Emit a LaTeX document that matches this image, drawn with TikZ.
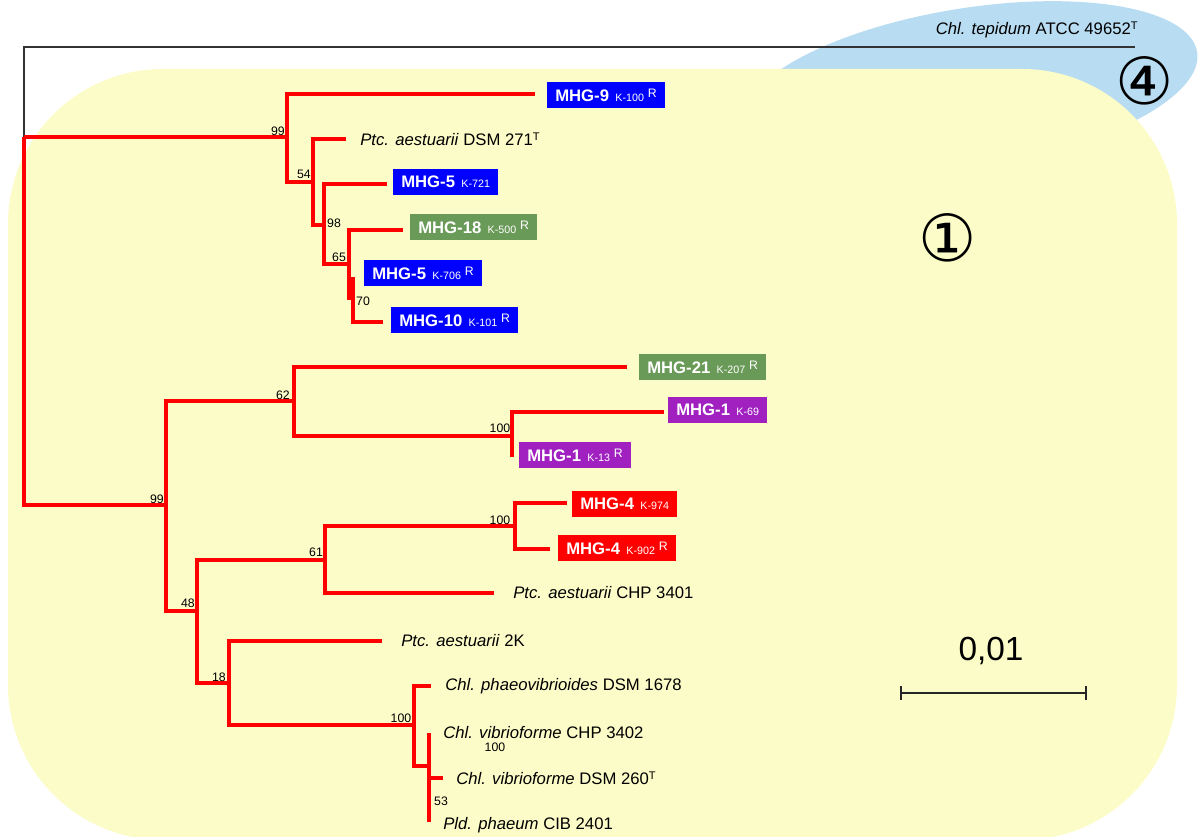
\documentclass[tikz,border=0pt]{standalone}
\usepackage{fontspec}
\setmainfont{Liberation Sans}
\newfontfamily\circfont{DejaVu Sans}
\usetikzlibrary{arrows.meta}
\definecolor{mhg-blue}{HTML}{0000FF}
\definecolor{mhg-green}{HTML}{6A9A58}
\definecolor{mhg-purple}{HTML}{A020C0}
\definecolor{mhg-red}{HTML}{FF0000}
\definecolor{group-one}{HTML}{FCFCC8}
\definecolor{group-four}{HTML}{B8DCF2}
\newcommand{\strain}[2]{\textbf{#1}\hspace{3.6pt}{\fontsize{6.1}{7}\selectfont #2}}
\newcommand{\rsup}{\hspace{2.2pt}\raisebox{2.3pt}{\fontsize{7}{8}\selectfont R}}
\newcommand{\tsup}{\raisebox{2.8pt}{\fontsize{6.3}{7}\selectfont T}}

\begin{document}
\begin{tikzpicture}[x=0.02cm, y=-0.02cm,
        taxon/.style={anchor=west, inner sep=0pt, font=\fontsize{9.5}{11}\selectfont},
        mhgbox/.style={anchor=west, inner xsep=4.5pt, inner ysep=0pt,
            minimum height=15.3pt, text=white, font=\fontsize{9.5}{11}\selectfont},
        boot/.style={inner sep=0pt, font=\fontsize{7}{8}\selectfont},
        branch/.style={draw=mhg-red, line width=1.9pt},
        outgroup/.style={draw=black!80, line width=1.1pt},
        circnum/.style={inner sep=0pt, font=\circfont\fontsize{37}{37}\selectfont}]
      \useasboundingbox (0,0) rectangle (1198,837);
      % groups
      \fill[group-four, rotate around={9:(970,88)}] (970,88) ellipse [x radius=4.6cm, y radius=1.6cm];
      \fill[group-one, rounded corners=3.1cm] (8,69) rectangle (1177,840);
      \node[circnum] (grp1) at (948,238) {①};
      \node[circnum] (grp4) at (1145,81) {④};
      % inner nodes
      \coordinate (root) at (24,137);
      \coordinate (nA) at (287,137);
      \coordinate (nC) at (313,182);
      \coordinate (nD) at (324,225);
      \coordinate (nE) at (349,264);
      \coordinate (nF) at (353,298);
      \coordinate (nB) at (166,505);
      \coordinate (nG) at (294,401);
      \coordinate (nI) at (512,436);
      \coordinate (nH) at (197,611);
      \coordinate (nJ) at (325,560);
      \coordinate (nL) at (515,526);
      \coordinate (nK) at (229,683);
      \coordinate (nM) at (414,725);
      \coordinate (nN) at (429,766);
      % tips
      \coordinate (tTep) at (1135,47);
      \coordinate (tMHG9) at (535,94);
      \coordinate (tPtcA) at (346,139);
      \coordinate (tMHG5a) at (387,184);
      \coordinate (tMHG18) at (403,230);
      \coordinate (tMHG5b) at (353,277);
      \coordinate (tMHG10) at (383,322);
      \coordinate (tMHG21) at (627,367);
      \coordinate (tMHG1a) at (664,412);
      \coordinate (tMHG1b) at (512,457);
      \coordinate (tMHG4a) at (567,503);
      \coordinate (tMHG4b) at (550,549);
      \coordinate (tPtcB) at (494,593);
      \coordinate (tPtcC) at (382,641);
      \coordinate (tPhaeo) at (431,686);
      \coordinate (tVibA) at (429,733);
      \coordinate (tVibB) at (443,778);
      \coordinate (tPld) at (429,822);
      % branches
      \draw[outgroup] (root) |- (tTep);
      \draw[branch] (root) -- (nA);
      \draw[branch] (root) |- (nB);
      \draw[branch] (nA) |- (tMHG9);
      \draw[branch] (nA) |- (nC);
      \draw[branch] (nC) |- (tPtcA);
      \draw[branch] (nC) |- (nD);
      \draw[branch] (nD) |- (tMHG5a);
      \draw[branch] (nD) |- (nE);
      \draw[branch] (nE) |- (tMHG18);
      \draw[branch] (nE) |- (nF);
      \draw[branch] (nF) |- (tMHG5b);
      \draw[branch] (nF) |- (tMHG10);
      \draw[branch] (nB) |- (nG);
      \draw[branch] (nB) |- (nH);
      \draw[branch] (nG) |- (tMHG21);
      \draw[branch] (nG) |- (nI);
      \draw[branch] (nI) |- (tMHG1a);
      \draw[branch] (nI) |- (tMHG1b);
      \draw[branch] (nH) |- (nJ);
      \draw[branch] (nH) |- (nK);
      \draw[branch] (nJ) |- (nL);
      \draw[branch] (nJ) |- (tPtcB);
      \draw[branch] (nL) |- (tMHG4a);
      \draw[branch] (nL) |- (tMHG4b);
      \draw[branch] (nK) |- (tPtcC);
      \draw[branch] (nK) |- (nM);
      \draw[branch] (nM) |- (tPhaeo);
      \draw[branch] (nM) |- (nN);
      \draw[branch] (nN) |- (tVibA);
      \draw[branch] (nN) |- (tVibB);
      \draw[branch] (nN) |- (tPld);
      % bootstrap values
      \node[boot] (bsA) at (278,131) {99};
      \node[boot] (bsC) at (304,174) {54};
      \node[boot] (bsD) at (334,223) {98};
      \node[boot] (bsE) at (339,257) {65};
      \node[boot] (bsF) at (363,301) {70};
      \node[boot] (bsB) at (157,499) {99};
      \node[boot] (bsG) at (283,395) {62};
      \node[boot] (bsI) at (500,428) {100};
      \node[boot] (bsL) at (500,520) {100};
      \node[boot] (bsJ) at (316,552) {61};
      \node[boot] (bsH) at (188,603) {48};
      \node[boot] (bsK) at (219,677) {18};
      \node[boot] (bsM) at (401,718) {100};
      \node[boot] (bsN) at (495,747) {100};
      \node[boot] (bsP) at (441,801) {53};
      % leaves
      \node[taxon, anchor=east] (tep) at (1138,30) {\textit{Chl. tepidum} ATCC 49652\tsup};
      \node[mhgbox, fill=mhg-blue] (mhg9) at (547,95) {\strain{MHG-9}{K-100}\rsup};
      \node[taxon] (ptcA) at (360,139) {\textit{Ptc. aestuarii} DSM 271\tsup};
      \node[mhgbox, fill=mhg-blue] (mhg5a) at (393,182) {\strain{MHG-5}{K-721}};
      \node[mhgbox, fill=mhg-green] (mhg18) at (410,227) {\strain{MHG-18}{K-500}\rsup};
      \node[mhgbox, fill=mhg-blue] (mhg5b) at (364,273) {\strain{MHG-5}{K-706}\rsup};
      \node[mhgbox, fill=mhg-blue] (mhg10) at (391,320) {\strain{MHG-10}{K-101}\rsup};
      \node[mhgbox, fill=mhg-green] (mhg21) at (639,367) {\strain{MHG-21}{K-207}\rsup};
      \node[mhgbox, fill=mhg-purple] (mhg1a) at (668,410) {\strain{MHG-1}{K-69}};
      \node[mhgbox, fill=mhg-purple] (mhg1b) at (519,455) {\strain{MHG-1}{K-13}\rsup};
      \node[mhgbox, fill=mhg-red] (mhg4a) at (572,504) {\strain{MHG-4}{K-974}};
      \node[mhgbox, fill=mhg-red] (mhg4b) at (558,548) {\strain{MHG-4}{K-902}\rsup};
      \node[taxon] (ptcB) at (513,593) {\textit{Ptc. aestuarii} CHP 3401};
      \node[taxon] (ptcC) at (401,641) {\textit{Ptc. aestuarii} 2K};
      \node[taxon] (phaeo) at (445,686) {\textit{Chl. phaeovibrioides} DSM 1678};
      \node[taxon] (vibA) at (443,733) {\textit{Chl. vibrioforme} CHP 3402};
      \node[taxon] (vibB) at (456,778) {\textit{Chl. vibrioforme} DSM 260\tsup};
      \node[taxon] (pld) at (443,825) {\textit{Pld. phaeum} CIB 2401};
      % scale bar
      \coordinate (barL) at (900,693);
      \coordinate (barR) at (1087,693);
      \draw[black!85, line width=1.1pt, {Bar[width=8pt]}-{Bar[width=8pt]}] (barL) -- (barR);
      \node[font=\fontsize{19}{21}\selectfont] (barlab) at (991,651) {0,01};
    \end{tikzpicture}
\end{document}
